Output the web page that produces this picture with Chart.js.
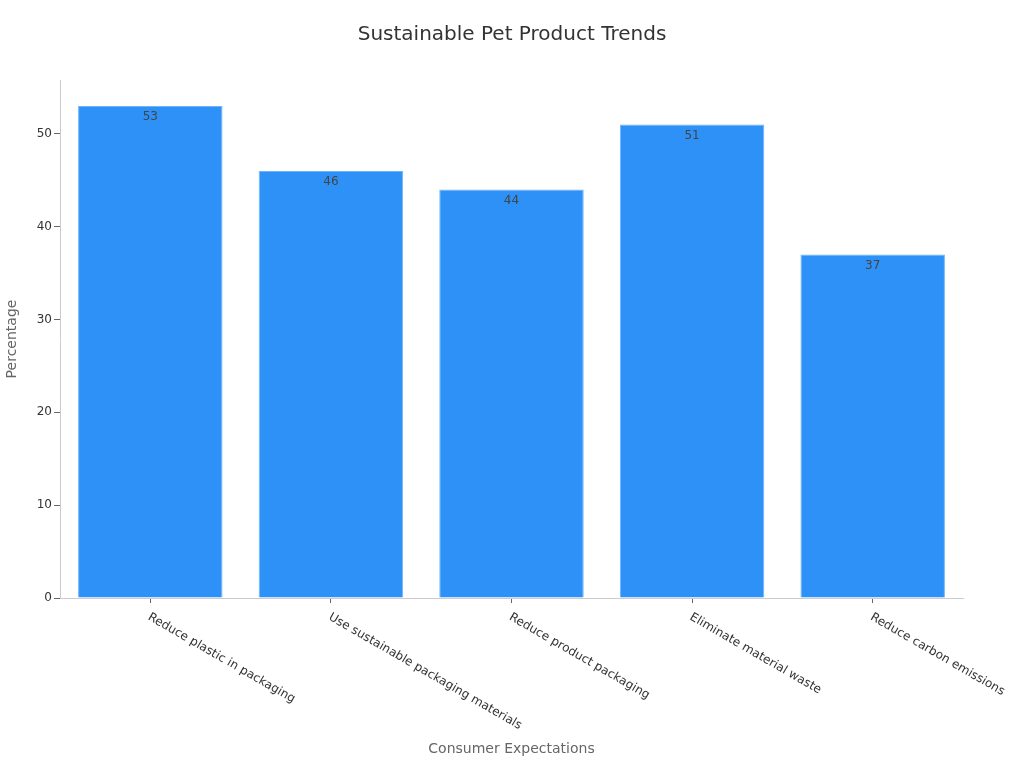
<!DOCTYPE html>
<html>
<head>
<meta charset="utf-8">
<script src="https://cdn.jsdelivr.net/npm/chart.js@4"></script>
<style>
  html, body { margin: 0; padding: 0; background: #fff; }
  #wrap { width: 1024px; height: 768px; }
</style>
</head>
<body>
<div id="wrap"><canvas id="trendChart"></canvas></div>
<script>
var categories = ["Reduce plastic in packaging", "Use sustainable packaging materials", "Reduce product packaging", "Eliminate material waste", "Reduce carbon emissions"];
var percentages = [53, 46, 44, 51, 37];
var yTicks = [0, 10, 20, 30, 40, 50];

var FONT = "'DejaVu Sans', sans-serif";

// value labels just under the top of each bar
var barValues = {
    id: 'barValues',
    afterDatasetsDraw: function(chart) {
        var ctx = chart.ctx;
        var meta = chart.getDatasetMeta(0);
        ctx.save();
        ctx.font = "12px " + FONT;
        ctx.fillStyle = "#444";
        ctx.textAlign = "center";
        ctx.textBaseline = "middle";
        meta.data.forEach(function(bar, i) {
            ctx.fillText(percentages[i], bar.x, bar.y + 11);
        });
        ctx.restore();
    }
};

// x labels turned clockwise, starting at the tick
var slantLabels = {
    id: 'slantLabels',
    afterDraw: function(chart) {
        var ctx = chart.ctx;
        var xs = chart.scales.x;
        ctx.save();
        ctx.font = "12px " + FONT;
        ctx.fillStyle = "#333";
        ctx.textAlign = "left";
        ctx.textBaseline = "alphabetic";
        categories.forEach(function(label, i) {
            var px = xs.getPixelForTick(i);
            ctx.save();
            ctx.translate(px - 3, xs.top + 21);
            ctx.rotate(Math.PI / 6);
            ctx.fillText(label, 0, 0);
            ctx.restore();
        });
        ctx.restore();
    }
};

new Chart(document.getElementById('trendChart'), {
    type: 'bar',
    data: {
        labels: categories,
        datasets: [{
            label: 'Percentage',
            data: percentages,
            backgroundColor: '#2E91F7',
            borderColor: '#6fb4fa',
            borderWidth: 1,
            barPercentage: 0.8,
            categoryPercentage: 1.0
        }]
    },
    options: {
        responsive: true,
        maintainAspectRatio: false,
        animation: false,
        layout: { padding: { left: 0, right: 0, top: 0, bottom: 10 } },
        plugins: {
            legend: { display: false },
            tooltip: { enabled: false },
            title: {
                display: true,
                text: 'Sustainable Pet Product Trends',
                color: '#333',
                font: { family: FONT, size: 20, weight: 'normal' },
                padding: { top: 23, bottom: 33 }
            }
        },
        scales: {
            x: {
                grid: { display: true, offset: false, drawOnChartArea: false, drawTicks: true, tickLength: 5, color: '#666' },
                border: { display: true, color: '#ccc' },
                ticks: { display: false },
                title: {
                    display: true,
                    text: 'Consumer Expectations',
                    color: '#666',
                    font: { family: FONT, size: 14 },
                    padding: { top: 4, bottom: 0 }
                },
                afterFit: function(scale) { scale.height = 160; }
            },
            y: {
                min: 0,
                max: 55.8,
                grid: { display: true, drawOnChartArea: false, drawTicks: true, tickLength: 6, color: '#666' },
                border: { display: true, color: '#ccc' },
                ticks: {
                    stepSize: 10,
                    includeBounds: false,
                    padding: 2,
                    color: '#333',
                    font: { family: FONT, size: 12 },
                    callback: function(v) { return yTicks.indexOf(v) >= 0 ? v : ''; }
                },
                title: {
                    display: true,
                    text: 'Percentage',
                    color: '#666',
                    font: { family: FONT, size: 14 },
                    padding: { top: 4, bottom: 4 }
                },
                afterFit: function(scale) { scale.width = 60; }
            },
            // empty right-hand strip so the title stays centred on the page
            spacer: {
                position: 'right',
                display: true,
                grid: { display: false },
                border: { display: false },
                ticks: { display: false },
                afterFit: function(scale) { scale.width = 61; }
            }
        }
    },
    plugins: [barValues, slantLabels]
});
</script>
</body>
</html>
